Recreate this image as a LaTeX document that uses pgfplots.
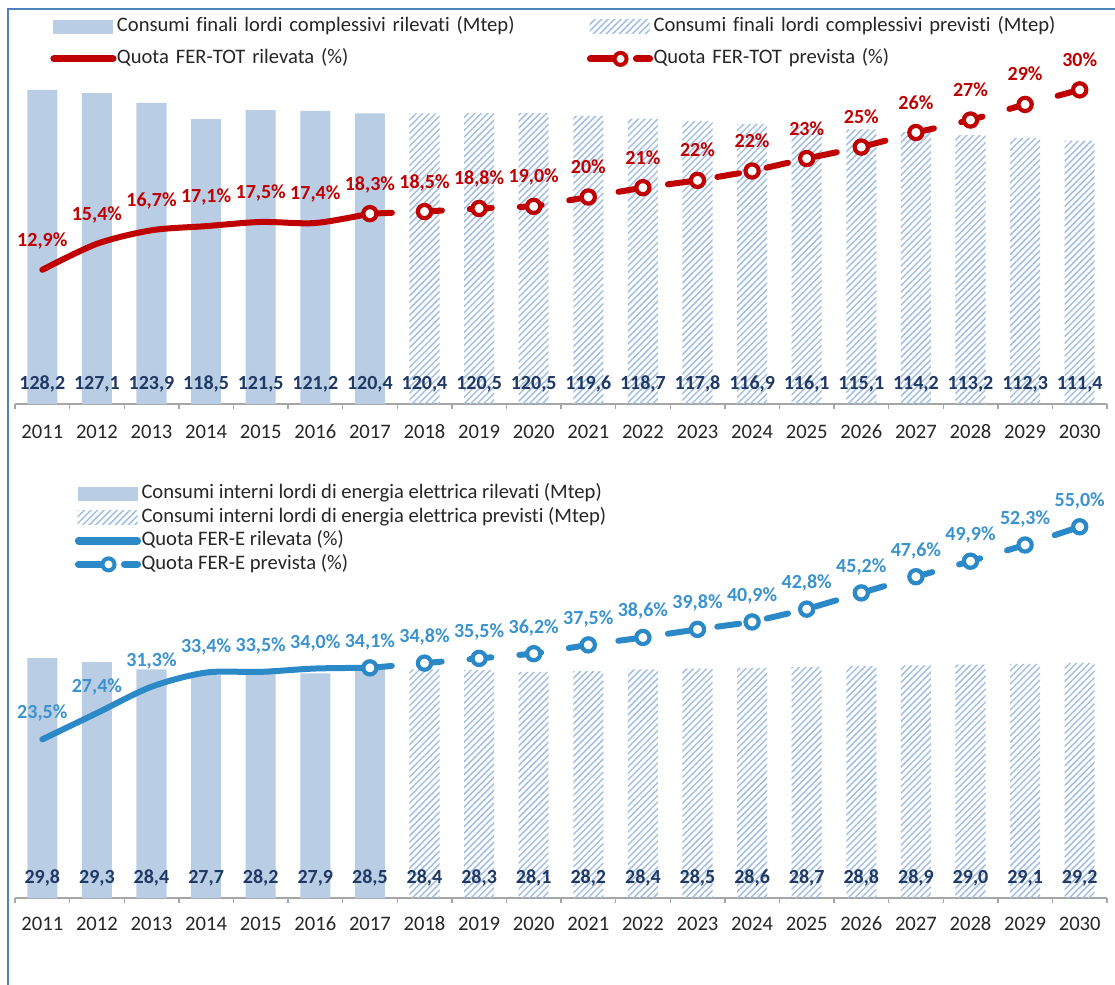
\documentclass[border=0pt]{standalone}
\usepackage{fontspec}
\setmainfont{Carlito}[Ligatures=NoCommon]
\usepackage{pgfplots}
\usepackage{pgfplotstable}
\pgfplotsset{compat=1.18}
\usetikzlibrary{patterns.meta}

\definecolor{barblue}{HTML}{B9CDE5}
\definecolor{hatchblue}{HTML}{A3C0E3}
\definecolor{fred}{HTML}{C00000}
\definecolor{eblue}{HTML}{2B89C8}
\definecolor{elab}{HTML}{3A93CF}
\definecolor{navy}{HTML}{1F3864}
\definecolor{tickgray}{HTML}{262626}
\definecolor{axisgray}{HTML}{A6A6A6}
\definecolor{frameblue}{HTML}{4F81BD}

\newcommand\legfont{\fontsize{10.3}{12}\selectfont}
\newcommand\labfont{\bfseries\fontsize{10}{12}\selectfont}

\pgfkeys{/pgf/number format/.cd, fixed, fixed zerofill, precision=1, use comma, assume math mode=true}

% bar values (Mtep), x = year - 2011
\pgfplotstableread{
x v
0 128.2
1 127.1
2 123.9
3 118.5
4 121.5
5 121.2
6 120.4
7 120.4
8 120.5
9 120.5
10 119.6
11 118.7
12 117.8
13 116.9
14 116.1
15 115.1
16 114.2
17 113.2
18 112.3
19 111.4
}\topbars

\pgfplotstableread{
x v
0 29.8
1 29.3
2 28.4
3 27.7
4 28.2
5 27.9
6 28.5
7 28.4
8 28.3
9 28.1
10 28.2
11 28.4
12 28.5
13 28.6
14 28.7
15 28.8
16 28.9
17 29.0
18 29.1
19 29.2
}\botbars

% quota FER-TOT (%)
\pgfplotstableread{
x y
0 12.9
1 15.4
2 16.7
3 17.1
4 17.5
5 17.4
6 18.3
}\topril

\pgfplotstableread{
x y lab
6 18.3 -
7 18.5 18,5\%
8 18.8 18,8\%
9 19.0 19,0\%
10 19.9 20\%
11 20.8 21\%
12 21.5 22\%
13 22.4 22\%
14 23.6 23\%
15 24.7 25\%
16 26.1 26\%
17 27.3 27\%
18 28.8 29\%
19 30.2 30\%
}\topprev

% quota FER-E (%)
\pgfplotstableread{
x y
0 23.5
1 27.4
2 31.3
3 33.4
4 33.5
5 34.0
6 34.1
}\botril

\pgfplotstableread{
x y
6 34.1
7 34.8
8 35.5
9 36.2
10 37.5
11 38.6
12 39.8
13 40.9
14 42.8
15 45.2
16 47.6
17 49.9
18 52.3
19 55.0
}\botprev

\pgfplotsset{
  panel/.style={scale only axis, width=546pt, xmin=-0.5, xmax=19.5,
    axis x line*=bottom, hide y axis,
    x axis line style={-, draw=axisgray, line width=0.8pt},
    xtick={0,...,19},
    xticklabels={2011,2012,2013,2014,2015,2016,2017,2018,2019,2020,2021,2022,2023,2024,2025,2026,2027,2028,2029,2030},
    major tick length=0pt, minor xtick={-0.5,0.5,...,19.5}, minor tick length=2.5pt,
    tick align=outside, minor tick style={draw=axisgray, line width=0.7pt},
    xticklabel style={font=\legfont, text=tickgray, anchor=base},
    legend cell align=left},
  twin/.style={scale only axis, width=546pt, xmin=-0.5, xmax=19.5, hide axis, clip=false},
  solidbar/.style={ybar, bar width=0.55, bar shift=0pt, fill=barblue, draw=none, forget plot},
  hatchbar/.style={ybar, bar width=0.55, bar shift=0pt, draw=none, forget plot,
    pattern={Lines[angle=45,distance=2.3pt,line width=0.75pt]}, pattern color=hatchblue},
  barlab/.style={draw=none, forget plot, nodes near coords, point meta=\thisrow{v},
    nodes near coords style={anchor=base, font=\labfont, text=navy}},
  legbox/.style={legend image code/.code={\path[draw=none, fill=none] (0pt,-4pt) rectangle (33pt,4pt);
    \fill[barblue, draw=none] (1pt,-3.5pt) rectangle (31pt,3.5pt);}},
  leghatch/.style={legend image code/.code={\path[draw=none, fill=none] (0pt,-4pt) rectangle (33pt,4pt);
    \path[draw=none, pattern={Lines[angle=45,distance=2.3pt,line width=0.75pt]}, pattern color=hatchblue] (1pt,-3.5pt) rectangle (31pt,3.5pt);}},
  legsolid/.style={legend image code/.code={\path[draw=none, fill=none] (0pt,-4pt) rectangle (33pt,4pt);
    \draw[#1, line width=3.6pt, line cap=round] (1.5pt,0pt) -- (31pt,0pt);}},
  legprev/.style={legend image code/.code={\path[draw=none, fill=none] (0pt,-4pt) rectangle (33pt,4pt);
    \draw[#1, line width=3.6pt, line cap=round] (1.5pt,0pt) -- (16pt,0pt) (24.5pt,0pt) -- (31pt,0pt);
    \draw[#1, fill=white, line width=2pt] (16.5pt,0pt) circle (3pt);}},
  prevline/.style={#1, line width=3pt, line cap=round, dash pattern=on 11pt off 14pt,
    mark=*, mark size=3.3pt, mark options={solid, fill=white, draw=#1, line width=2.1pt}},
}

\begin{document}
\begin{tikzpicture}
\useasboundingbox (0,0) rectangle (557.5pt,-492.5pt);
\fill[white] (0,0) rectangle (557.5pt,-492.5pt);
\draw[frameblue, line width=1pt] (4pt,-492.5pt) -- (4pt,-4.5pt) -- (557.5pt,-4.5pt);

% ---------- top panel: bars ----------
\begin{axis}[panel, at={(7.5pt,-202pt)}, anchor=south west, height=164.5pt,
  ymin=24.2, ymax=133.1, xticklabel style={yshift=-17.25pt},
  legend columns=2,
  legend style={at={(0.032,1.1748)}, anchor=north west, draw=none, fill=none,
    inner sep=0pt, row sep=7pt, font=\legfont, text=tickgray,
    nodes={inner sep=0pt, text width=235pt, text height=7pt, text depth=2pt},
    every odd column/.append style={column sep=2.5pt}}]
\addlegendimage{legbox}\addlegendentry{Consumi finali lordi complessivi rilevati (Mtep)}
\addlegendimage{leghatch}\addlegendentry{Consumi finali lordi complessivi previsti (Mtep)}
\addlegendimage{legsolid=fred}\addlegendentry{Quota FER-TOT rilevata (\%)}
\addlegendimage{legprev=fred}\addlegendentry{Quota FER-TOT prevista (\%)}
\addplot[solidbar, restrict x to domain=0:6] table[x=x,y=v]{\topbars};
\addplot[hatchbar, restrict x to domain=7:19] table[x=x,y=v]{\topbars};
\addplot[barlab] table[x=x,y expr=29.0]{\topbars};
\end{axis}

% ---------- top panel: shares ----------
\begin{axis}[twin, at={(7.5pt,-202pt)}, anchor=south west, height=164.5pt, ymin=0, ymax=31.63]
\addplot[fred, line width=3pt, line cap=round, smooth, nodes near coords={\pgfmathprintnumber{\pgfplotspointmeta}\%},
  nodes near coords style={anchor=base, yshift=11.75pt, font=\labfont, text=fred}] table[x=x,y=y]{\topril};
\addplot[prevline=fred] table[x=x,y=y]{\topprev};
\addplot[draw=none, restrict x to domain=7:19, point meta=explicit symbolic, nodes near coords,
  nodes near coords style={anchor=base, yshift=11.75pt, font=\labfont, text=fred}] table[x=x,y=y,meta=lab]{\topprev};
\end{axis}

% ---------- bottom panel: bars ----------
\begin{axis}[panel, at={(7.5pt,-449pt)}, anchor=south west, height=209pt,
  ymin=0, ymax=51.93, xticklabel style={yshift=-16pt},
  legend columns=1,
  legend style={at={(0.0545,0.9892)}, anchor=north west, draw=none, fill=none,
    inner sep=0pt, row sep=2.75pt, font=\legfont, text=tickgray,
    nodes={inner sep=0pt, text height=7pt, text depth=2pt},
    every odd column/.append style={column sep=3.5pt}}]
\addlegendimage{legbox}\addlegendentry{Consumi interni lordi di energia elettrica rilevati (Mtep)}
\addlegendimage{leghatch}\addlegendentry{Consumi interni lordi di energia elettrica previsti (Mtep)}
\addlegendimage{legsolid=eblue}\addlegendentry{Quota FER-E rilevata (\%)}
\addlegendimage{legprev=eblue}\addlegendentry{Quota FER-E prevista (\%)}
\addplot[solidbar, restrict x to domain=0:6] table[x=x,y=v]{\botbars};
\addplot[hatchbar, restrict x to domain=7:19] table[x=x,y=v]{\botbars};
\addplot[barlab] table[x=x,y expr=1.8]{\botbars};
\end{axis}

% ---------- bottom panel: shares ----------
\begin{axis}[twin, at={(7.5pt,-449pt)}, anchor=south west, height=209pt, ymin=0, ymax=61.93]
\addplot[eblue, line width=3pt, line cap=round, smooth, nodes near coords={\pgfmathprintnumber{\pgfplotspointmeta}\%},
  nodes near coords style={anchor=base, yshift=10.25pt, font=\labfont, text=elab}] table[x=x,y=y]{\botril};
\addplot[prevline=eblue, restrict x to domain=6:19] table[x=x,y=y]{\botprev};
\addplot[draw=none, restrict x to domain=7:19, nodes near coords={\pgfmathprintnumber{\pgfplotspointmeta}\%},
  nodes near coords style={anchor=base, yshift=10.25pt, font=\labfont, text=elab}] table[x=x,y=y]{\botprev};
\end{axis}
\end{tikzpicture}
\end{document}
